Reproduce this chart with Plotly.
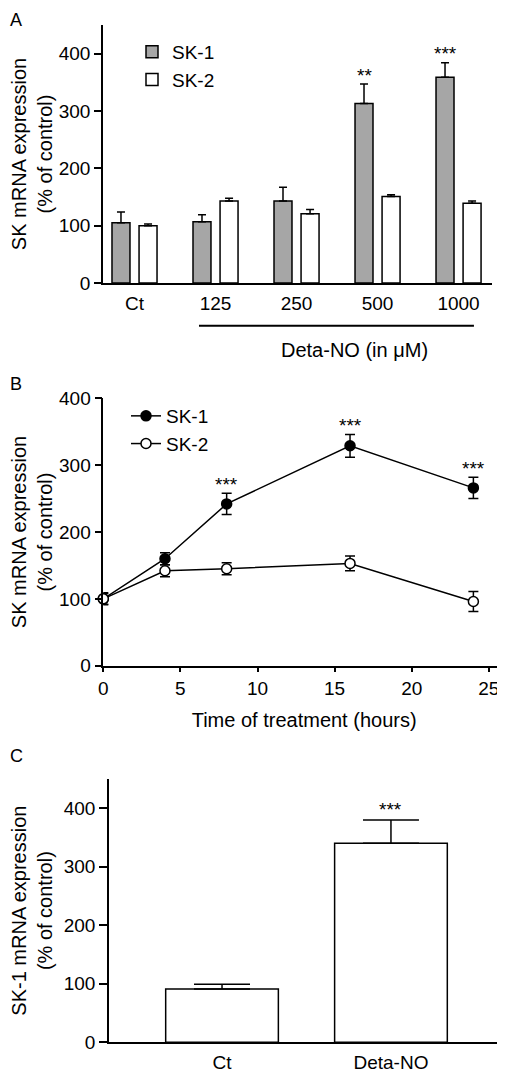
import plotly.graph_objects as go

# ---------------- data ----------------
# Panel A : dose response
a_categories = ["Ct", "125", "250", "500", "1000"]
a_sk1 = [105, 107, 143, 313, 359]
a_sk1_err = [19, 12, 24, 34, 25]
a_sk2 = [100, 143, 121, 151, 139]
a_sk2_err = [3, 5, 7, 3, 4]
a_stars = ["", "", "", "**", "***"]

# Panel B : time course
b_hours = [0, 4, 8, 16, 24]
b_sk1 = [100, 160, 242, 329, 266]
b_sk1_err = [9, 9, 16, 17, 16]
b_sk2 = [100, 142, 145, 153, 96]
b_sk2_err = [8, 9, 9, 11, 15]
b_stars = ["", "", "***", "***", "***"]

# Panel C : SK-1 only
c_categories = ["Ct", "Deta-NO"]
c_sk1 = [91, 340]
c_sk1_err = [8, 40]
c_stars = ["", "***"]

FONT = "Liberation Sans, Arial, Helvetica, sans-serif"
GRAY = "#a6a6a6"
# the page body has an 8px margin, so the figure is sized to end at the window edge
OFF = 8
W, H = 505 - OFF, 1073 - OFF


def px(x):
    return (x - OFF) / W


def py(y):
    return 1 - (y - OFF) / H


fig = go.Figure()

# ---------- Panel A bars ----------
a_x = list(range(len(a_categories)))
bw = 0.222
fig.add_trace(go.Bar(
    x=a_x, y=a_sk1, name="SK-1", width=bw, offset=-0.278,
    marker=dict(color=GRAY, line=dict(color="black", width=1.5)),
    error_y=dict(type="data", array=a_sk1_err, arrayminus=[0] * len(a_sk1_err),
                 symmetric=False, color="black", thickness=1.5, width=4),
    xaxis="x", yaxis="y", legend="legend"))
fig.add_trace(go.Bar(
    x=a_x, y=a_sk2, name="SK-2", width=bw, offset=0.056,
    marker=dict(color="white", line=dict(color="black", width=1.5)),
    error_y=dict(type="data", array=a_sk2_err, arrayminus=[0] * len(a_sk2_err),
                 symmetric=False, color="black", thickness=1.5, width=4),
    xaxis="x", yaxis="y", legend="legend"))

# ---------- Panel B lines ----------
fig.add_trace(go.Scatter(
    x=b_hours, y=b_sk1, name="SK-1", mode="lines+markers", cliponaxis=False,
    line=dict(color="black", width=1.5),
    marker=dict(symbol="circle", size=10, color="black", line=dict(color="black", width=1.5)),
    error_y=dict(type="data", array=b_sk1_err, color="black", thickness=1.5, width=5),
    xaxis="x2", yaxis="y2", legend="legend2"))
fig.add_trace(go.Scatter(
    x=b_hours, y=b_sk2, name="SK-2", mode="lines+markers", cliponaxis=False,
    line=dict(color="black", width=1.5),
    marker=dict(symbol="circle", size=10, color="white", line=dict(color="black", width=1.5)),
    error_y=dict(type="data", array=b_sk2_err, color="black", thickness=1.5, width=5),
    xaxis="x2", yaxis="y2", legend="legend2"))

# ---------- Panel C bars ----------
c_x = list(range(len(c_categories)))
fig.add_trace(go.Bar(
    x=c_x, y=c_sk1, name="SK-1", width=0.667, showlegend=False,
    marker=dict(color="white", line=dict(color="black", width=1.5)),
    error_y=dict(type="data", array=c_sk1_err, arrayminus=[0] * len(c_sk1_err),
                 symmetric=False, color="black", thickness=1.5, width=28),
    xaxis="x3", yaxis="y3"))

# ---------- significance stars ----------
ann = []
star_font = dict(size=19, family=FONT, color="black")
for i, s in enumerate(a_stars):
    if s:
        ann.append(dict(x=a_x[i] - 0.167, y=a_sk1[i] + a_sk1_err[i], xref="x", yref="y",
                        text=s, showarrow=False, yanchor="middle", yshift=9, font=star_font))
for i, s in enumerate(b_stars):
    if s:
        ann.append(dict(x=b_hours[i], y=b_sk1[i] + b_sk1_err[i], xref="x2", yref="y2",
                        text=s, showarrow=False, yanchor="middle", yshift=9, font=star_font))
for i, s in enumerate(c_stars):
    if s:
        ann.append(dict(x=c_x[i], y=c_sk1[i] + c_sk1_err[i], xref="x3", yref="y3",
                        text=s, showarrow=False, yanchor="middle", yshift=10, font=star_font))

# panel letters (at the very left edge of the figure)
ann.append(dict(x=0, y=1, xref="paper", yref="paper", text="A",
                showarrow=False, xanchor="left", yanchor="top",
                font=dict(size=18, family=FONT, color="black")))
for letter, ypix in [("B", 384.5), ("C", 756)]:
    ann.append(dict(x=0, y=py(ypix), xref="paper", yref="paper", text=letter,
                    showarrow=False, xanchor="left", yanchor="middle",
                    font=dict(size=18, family=FONT, color="black")))

# Deta-NO label under panel A
ann.append(dict(x=px(354), y=py(350), xref="paper", yref="paper",
                text="Deta-NO (in \u03bcM)", showarrow=False, xanchor="center", yanchor="middle",
                font=dict(size=20, family=FONT, color="black")))

shapes = [dict(type="line", xref="x", yref="paper", x0=0.796, x1=4.19,
               y0=py(325.7), y1=py(325.7), line=dict(color="black", width=2))]

axis_common = dict(showline=True, linecolor="black", linewidth=1.5, showgrid=False,
                   zeroline=False, automargin=False,
                   tickfont=dict(size=19, family=FONT, color="black"),
                   tickcolor="black", tickwidth=1.5)
title_font = dict(size=20, family=FONT, color="black")

fig.update_layout(
    width=W, height=H, margin=dict(l=0, r=0, t=0, b=0, autoexpand=False),
    paper_bgcolor="white", plot_bgcolor="white", barmode="overlay",
    font=dict(family=FONT, color="black"),
    annotations=ann, shapes=shapes,
    xaxis=dict(axis_common, domain=[px(103), px(492)], range=[-0.389, 4.413], anchor="y",
               tickmode="array", tickvals=a_x, ticktext=a_categories,
               ticks="outside", ticklen=2, tickcolor="rgba(0,0,0,0)"),
    yaxis=dict(axis_common, domain=[py(283), py(25)], range=[0, 450], anchor="x",
               tickvals=[0, 100, 200, 300, 400], ticks="outside", ticklen=7,
               title=dict(text="SK mRNA expression<br>(% of control)", font=title_font, standoff=7)),
    xaxis2=dict(axis_common, domain=[px(103.3), 1.0], range=[0, 26.05], anchor="y2",
                tickvals=[0, 5, 10, 15, 20, 25], ticks="outside", ticklen=5,
                title=dict(text="Time of treatment (hours)", font=title_font, standoff=15)),
    yaxis2=dict(axis_common, domain=[py(665.7), py(398.3)], range=[0, 400], anchor="x2",
                tickvals=[0, 100, 200, 300, 400], ticks="outside", ticklen=7,
                title=dict(text="SK mRNA expression<br>(% of control)", font=title_font, standoff=7)),
    xaxis3=dict(axis_common, domain=[px(109), 1.0], range=[-0.669, 1.675], anchor="y3",
                tickmode="array", tickvals=c_x, ticktext=c_categories,
                ticks="outside", ticklen=2, tickcolor="rgba(0,0,0,0)"),
    yaxis3=dict(axis_common, domain=[py(1042.3), py(779)], range=[0, 450], anchor="x3",
                tickvals=[0, 100, 200, 300, 400], ticks="outside", ticklen=8,
                title=dict(text="SK-1 mRNA expression<br>(% of control)", font=title_font, standoff=7)),
    legend=dict(x=px(132), y=py(33), xanchor="left", yanchor="top",
                bgcolor="rgba(0,0,0,0)", font=dict(size=19, family=FONT, color="black"),
                tracegroupgap=0),
    legend2=dict(x=px(126), y=py(397), xanchor="left", yanchor="top",
                 bgcolor="rgba(0,0,0,0)", font=dict(size=19, family=FONT, color="black"),
                 tracegroupgap=0),
)

fig.write_html("out.html")
